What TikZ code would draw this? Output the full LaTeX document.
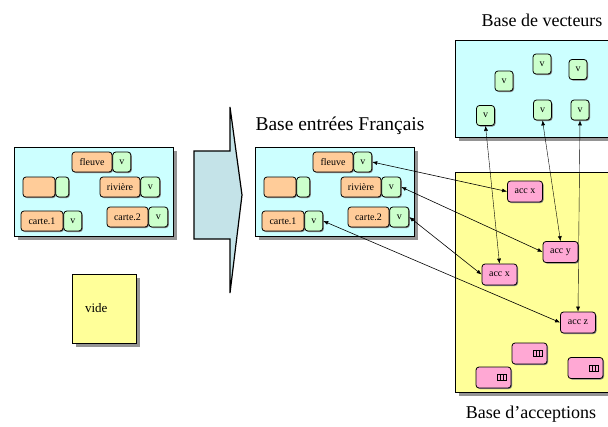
\documentclass[tikz,border=0pt]{standalone}
\usepackage{fontspec}
\setmainfont{Liberation Serif}
\usetikzlibrary{arrows.meta, positioning, shadows}

\definecolor{cyanbg}{HTML}{CCFFFF}
\definecolor{yellowbg}{HTML}{FFFF99}
\definecolor{entryfill}{HTML}{FFCC99}
\definecolor{vecfill}{HTML}{CCFFCC}
\definecolor{accfill}{HTML}{FFA8D4}
\definecolor{arrowfill}{HTML}{C4E3E8}

\begin{document}
\begin{tikzpicture}[
		x=1pt, y=-1pt,
		base/.style={draw, semithick, drop shadow={shadow xshift=4pt, shadow yshift=-4pt, fill=black!42, opacity=1}},
		small/.style={draw, thick, rounded corners=3pt, inner sep=0pt, minimum height=20,
			font=\fontsize{10}{12}\selectfont,
			drop shadow={shadow xshift=1pt, shadow yshift=-1pt, fill=black!50, opacity=1}},
		entry/.style={small, fill=entryfill},
		vec/.style={small, fill=vecfill, minimum width=18},
		acc/.style={small, fill=accfill, minimum width=35, minimum height=21},
		blankacc/.style={acc, path picture={
				\draw[thin, sharp corners] ([xshift=-14pt,yshift=3pt]path picture bounding box.east) rectangle ([xshift=-5pt,yshift=-3pt]path picture bounding box.east);
				\foreach \k in {-11,-8}
					\draw[thin] ([xshift=\k pt,yshift=3pt]path picture bounding box.east) -- ([xshift=\k pt,yshift=-3pt]path picture bounding box.east);
			}},
		title/.style={font=\fontsize{18}{21}\selectfont},
		link/.style={{Latex[length=5pt,width=4pt]}-{Latex[length=5pt,width=4pt]}, semithick},
		]
	\useasboundingbox (0,0) rectangle (608,426);
	
	% big arrow
	\draw[fill=arrowfill, draw=black, line width=1.2pt] (194,151) -- (230,151) -- (230,107) -- (242,195) -- (230,293) -- (230,239) -- (194,239) -- cycle;
	
	% the two entry bases
	\foreach \b/\dx in {g/0, m/241}{
		\begin{scope}[xshift=\dx]
			\node[base, fill=cyanbg, minimum width=159, minimum height=89] (\b-box) at (93.5,191.5) {};
			\node[entry, minimum width=40] (\b-fleuve) at (92,162) {fleuve};
			\node[vec, right=0pt of \b-fleuve] (\b-fleuvev) {v};
			\node[entry, minimum width=32] (\b-vide) at (39,187) {};
			\node[vec, minimum width=13, right=0pt of \b-vide] (\b-videv) {};
			\node[entry, minimum width=40] (\b-riviere) at (120,187) {rivière};
			\node[vec, minimum width=19, right=0pt of \b-riviere] (\b-rivierev) {v};
			\node[entry, minimum width=42] (\b-carteA) at (42,221) {carte.1};
			\node[vec, right=0pt of \b-carteA] (\b-carteAv) {v};
			\node[entry, minimum width=41] (\b-carteB) at (127.5,217) {carte.2};
			\node[vec, minimum width=19, right=0pt of \b-carteB] (\b-carteBv) {v};
		\end{scope}
	}
	
	\node[base, fill=yellowbg, minimum width=64, minimum height=69, font=\fontsize{13}{15}\selectfont, text width=50, align=left] (vide) at (104,308.5) {\hspace{6pt}vide};
	
	% vectors
	\node[base, fill=cyanbg, minimum width=160, minimum height=97] (vecbox) at (535,88.5) {};
	\node[vec] (v1) at (485.5,115.5) {v};
	\node[vec] (v2) at (504,81) {v};
	\node[vec] (v3) at (542,64) {v};
	\node[vec] (v4) at (578,69.5) {v};
	\node[vec] (v5) at (542.5,110) {v};
	\node[vec] (v6) at (580,110) {v};
	
	% acceptions
	\node[base, fill=yellowbg, minimum width=160, minimum height=220] (accbox) at (535,282) {};
	\node[acc] (accx) at (525,191.5) {acc x};
	\node[acc] (accy) at (560.5,252) {acc y};
	\node[acc] (accxb) at (499.5,274.5) {acc x};
	\node[acc] (accz) at (578,322.5) {acc z};
	\node[blankacc] (accA) at (529.5,353.5) {};
	\node[blankacc] (accB) at (493.5,377.5) {};
	\node[blankacc] (accC) at (585.5,368) {};
	
	% titles
	\node[title, font=\fontsize{19.5}{22}\selectfont] (entlabel) at (340,126) {Base entrées Français};
	\node[title] (veclabel) at (542,20) {Base de vecteurs};
	\node[title] (acclabel) at (531,414) {Base d’acceptions};
	
	% links
	\draw[link] (m-fleuvev.east) -- (accx.west);
	\draw[link] (m-rivierev.east) -- (accy.west);
	\draw[link] (m-carteBv.east) -- (accxb.west);
	\draw[link] (m-carteAv.east) -- (accz.west);
	\draw[link, thin] (v1.south) -- (accxb.north);
	\draw[link, thin] (v5.south) -- (accy.north);
	\draw[link, thin] (v6.south) -- (accz.north);
	
\end{tikzpicture}
\end{document}
